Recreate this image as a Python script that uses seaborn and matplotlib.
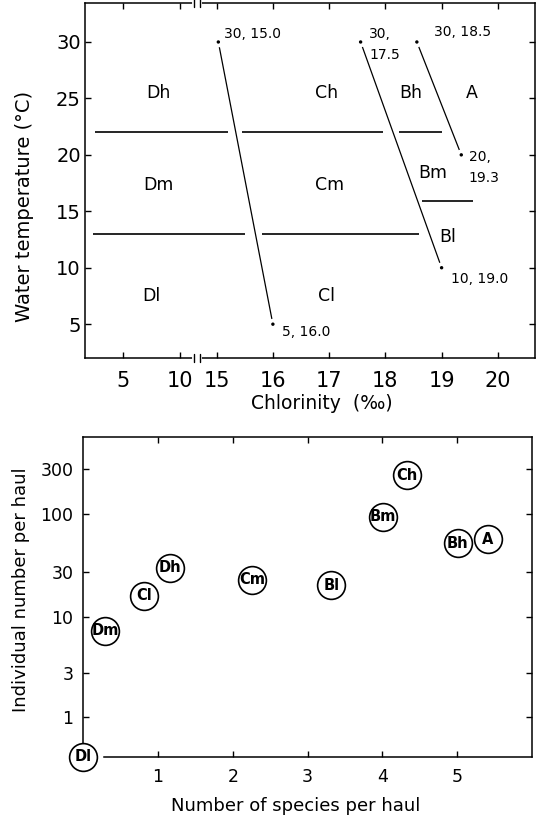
import numpy as np
import pandas as pd
import matplotlib
matplotlib.use("Agg")
import matplotlib.pyplot as plt
import seaborn as sns

# ---------------- data: upper panel (water temperature vs chlorinity) ----------------
chl_ticks = [5, 10, 15, 16, 17, 18, 19, 20]
chl_ticklabels = ["5", "10", "15", "16", "17", "18", "19", "20"]
temp_ticks = [5, 10, 15, 20, 25, 30]

# horizontal zone boundaries: temperature, chlorinity start, chlorinity end
bound_temp = [22, 22, 22, 13, 13, 15.9]
bound_start = [2.6, 15.45, 18.25, 2.45, 15.8, 18.65]
bound_end = [15.2, 17.95, 19.0, 15.5, 18.6, 19.55]

# oblique isolines, end points (temperature, chlorinity)
iso_id = ["a", "a", "b", "b", "c", "c"]
iso_temp = [30, 5, 30, 10, 30, 20]
iso_chl = [15.03, 16.0, 17.56, 19.0, 18.56, 19.35]
iso_text = ["30, 15.0", "5, 16.0", "30,\n17.5", "10, 19.0", "30, 18.5", "20,\n19.3"]

# zone names and where they are written
zone_names = ["Dh", "Ch", "Bh", "A", "Dm", "Cm", "Bm", "Bl", "Dl", "Cl"]
zone_chl = [8.1, 16.95, 18.46, 19.53, 8.1, 17.0, 18.85, 19.1, 7.5, 16.95]
zone_temp = [25.45, 25.45, 25.45, 25.45, 17.3, 17.3, 18.35, 12.75, 7.5, 7.5]

# ---------------- data: lower panel ----------------
groups = ["Dl", "Dm", "Cl", "Dh", "Cm", "Bl", "Bm", "Ch", "Bh", "A"]
species = [0.0, 0.29, 0.81, 1.16, 2.26, 3.32, 4.01, 4.33, 5.01, 5.41]
individuals = [0, 7.5, 17, 33, 25, 22, 95, 260, 55, 60]
sp_ticks = [1, 2, 3, 4, 5]
ind_ticks = [1, 3, 10, 30, 100, 300]

# ---------------- style ----------------
sns.set_style("ticks")
plt.rcParams["font.family"] = ["DejaVu Sans"]
plt.rcParams["axes.linewidth"] = 1.1
plt.rcParams["axes.edgecolor"] = "black"
plt.rcParams["axes.labelcolor"] = "black"
plt.rcParams["text.color"] = "black"
plt.rcParams["xtick.color"] = "black"
plt.rcParams["ytick.color"] = "black"
plt.rcParams["xtick.labelcolor"] = "black"
plt.rcParams["ytick.labelcolor"] = "black"

fig = plt.figure(figsize=(5.4, 8.21), dpi=100)
ax1 = fig.add_axes([0.1574, 0.5639, 0.8333, 0.4324])
ax2 = fig.add_axes([0.1543, 0.0783, 0.8304, 0.3898])

# ---- broken chlorinity axis as a piecewise-linear scale ----
XK = [0, 5, 10, 15, 20, 25]
PK = [65.4, 122.7, 180.0, 216.7, 498.0, 779.5]


def chl_fwd(x):
    return np.interp(np.asarray(x, dtype=float), XK, PK)


def chl_inv(p):
    return np.interp(np.asarray(p, dtype=float), PK, XK)


ax1.set_xscale("function", functions=(chl_fwd, chl_inv))
ax1.set_xlim(1.71, 20.66)
ax1.set_ylim(2.0, 33.45)

ax1.hlines(bound_temp, bound_start, bound_end, color="black", lw=1.2, zorder=2)

df_iso = pd.DataFrame({"id": iso_id, "temp": iso_temp, "chl": iso_chl, "txt": iso_text})
sns.lineplot(data=df_iso, x="chl", y="temp", units="id", estimator=None, sort=False,
             color="black", lw=0.9, ax=ax1, zorder=2)
sns.scatterplot(data=df_iso, x="chl", y="temp", s=60, color="white", edgecolor="none",
                ax=ax1, zorder=3)
sns.scatterplot(data=df_iso, x="chl", y="temp", s=6, color="black", edgecolor="none",
                ax=ax1, zorder=4)

offsets = [(4, 6), (6.8, -5.5), (6.2, -1.7), (6.5, -7.9), (12, 7.2), (5.5, -8.9)]
for (_, r), off in zip(df_iso.iterrows(), offsets):
    ax1.annotate(r["txt"], (r["chl"], r["temp"]), xytext=off, textcoords="offset points",
                 ha="left", va="center", fontsize=10, linespacing=1.65, zorder=5)

for n, cx, ty in zip(zone_names, zone_chl, zone_temp):
    ax1.text(cx, ty, n, ha="center", va="center", fontsize=12.5)

ax1.set_xticks(chl_ticks)
ax1.set_xticklabels(chl_ticklabels)
ax1.set_yticks(temp_ticks)
ax1.minorticks_off()
ax1.tick_params(direction="in", length=4, width=1, top=True, right=True)
ax1.tick_params(axis="x", labelsize=15, pad=9)
ax1.tick_params(axis="y", labelsize=14, pad=3)
ax1.set_xlabel("Chlorinity  (‰)", fontsize=13.5)
ax1.set_ylabel("Water temperature (°C)", fontsize=14)
ax1.xaxis.set_label_coords(0.526, -0.10)
ax1.yaxis.set_label_coords(-0.113, 0.428)

# axis break marks
xt = ax1.get_xaxis_transform()
for yb in (0, 1):
    ax1.plot([11.85, 12.7], [yb, yb], transform=xt, color="white", lw=3,
             clip_on=False, zorder=3)
    for xb in (11.85, 12.7):
        ax1.plot([xb, xb], [yb - 0.012, yb + 0.012], transform=xt, color="black",
                 lw=1, clip_on=False, zorder=4)

# ---- lower panel: quasi-logarithmic axis (log of n+1, as drawn) ----
GV = [0, 1, 3, 10, 30, 100, 300, 1000]
HV = [0.0, 40.0, 84.0, 140.0, 184.4, 242.4, 287.4, 336.8]
GK = np.log10(np.asarray(GV, dtype=float) + 1)


def ind_fwd(v):
    v = np.clip(np.asarray(v, dtype=float), 0, None)
    return np.interp(np.log10(v + 1), GK, HV)


def ind_inv(h):
    return 10 ** np.interp(np.asarray(h, dtype=float), HV, GK) - 1


ax2.set_yscale("function", functions=(ind_fwd, ind_inv))
ax2.set_ylim(0, 664)
ax2.set_xlim(0, 6.0)

df_b = pd.DataFrame({"group": groups, "species": species, "ind": individuals})
sns.scatterplot(data=df_b, x="species", y="ind", s=400, color="white", edgecolor="black",
                linewidth=1.2, ax=ax2, zorder=3, clip_on=False)
for _, r in df_b.iterrows():
    ax2.text(r["species"], r["ind"], r["group"], ha="center", va="center",
             fontsize=10.5, fontweight="bold", zorder=4, clip_on=False)

ax2.set_xticks(sp_ticks)
ax2.set_yticks(ind_ticks)
ax2.set_yticklabels([str(t) for t in ind_ticks])
ax2.minorticks_off()
ax2.tick_params(direction="in", length=4, width=1, top=True, right=True, labelsize=12.5)
ax2.tick_params(axis="x", pad=8)
ax2.tick_params(axis="y", pad=7)
ax2.spines["bottom"].set_bounds(0.27, 6.0)
ax2.set_xlabel("Number of species per haul", fontsize=13)
ax2.set_ylabel("Individual number per haul", fontsize=13)
ax2.xaxis.set_label_coords(0.474, -0.125)
ax2.yaxis.set_label_coords(-0.119, 0.521)

fig.savefig("out.png", dpi=100)
